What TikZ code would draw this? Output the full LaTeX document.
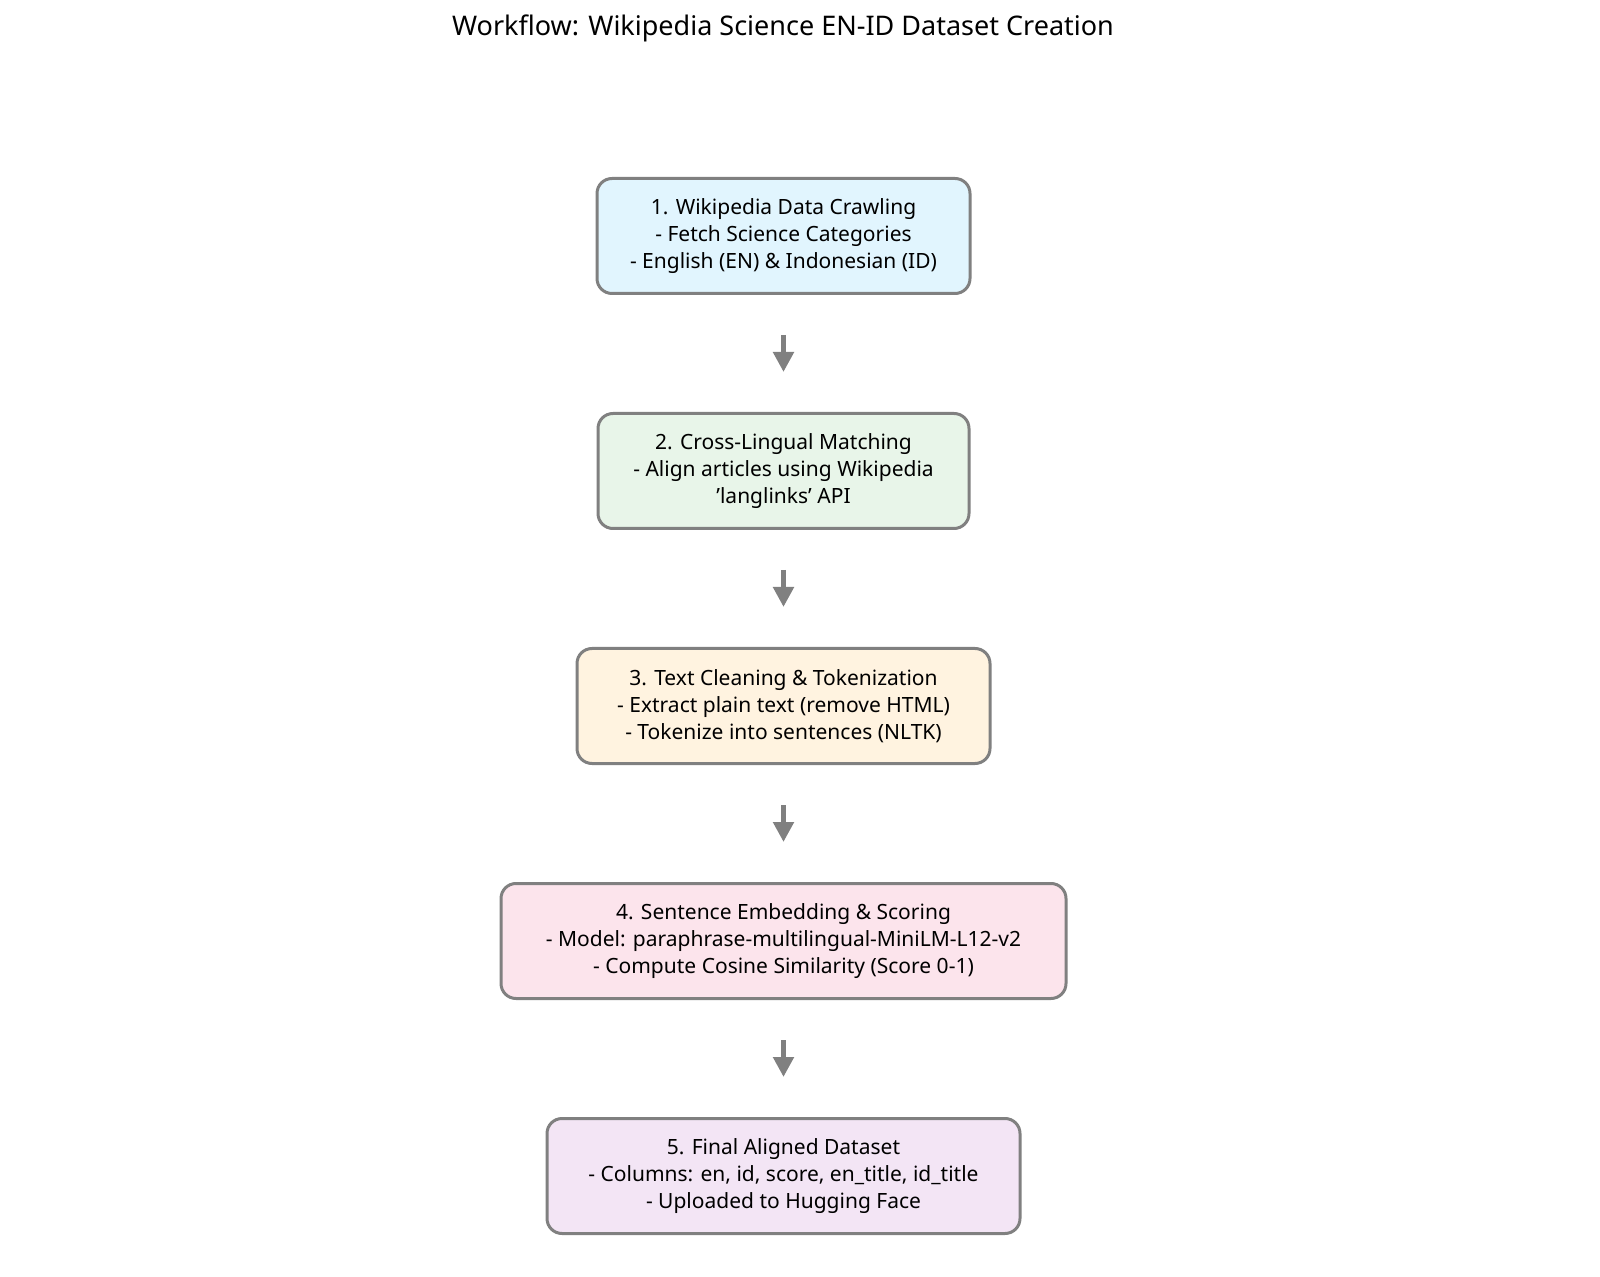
\documentclass[tikz,border=0pt]{standalone}
\usepackage{fontspec}
\setmainfont{Noto Sans}
\usetikzlibrary{arrows.meta}
\definecolor{bd}{HTML}{808080}
\definecolor{c1}{HTML}{E1F5FE}
\definecolor{c2}{HTML}{E8F5E9}
\definecolor{c3}{HTML}{FFF3E0}
\definecolor{c4}{HTML}{FCE4EC}
\definecolor{c5}{HTML}{F3E5F5}
\tikzset{
  box/.style={draw=bd, line width=1.5pt, rounded corners=7.5pt, align=center,
    font=\fontsize{10.5}{13.5}\selectfont, inner sep=0pt, minimum height=57.5pt},
  arr/.style={draw=bd, line width=2.5pt, shorten <=20pt, shorten >=20pt,
    -{Triangle[length=10pt,width=10pt]}}
}
\begin{document}
\begin{tikzpicture}[x=0.5pt,y=-0.5pt]
\useasboundingbox (0,0) rectangle (1600,1277);
\node[font=\fontsize{13.5}{16}\selectfont] (t) at (783,28) {Workflow: Wikipedia Science EN-ID Dataset Creation};
\node[box, fill=c1, minimum width=186.5pt] (b1) at (783.5,236) {1. Wikipedia Data Crawling\\- Fetch Science Categories\\- English (EN) \& Indonesian (ID)};
\node[box, fill=c2, minimum width=185.5pt] (b2) at (783.5,471) {2. Cross-Lingual Matching\\- Align articles using Wikipedia\\{\char39}langlinks{\char39} API};
\node[box, fill=c3, minimum width=206.5pt] (b3) at (783.5,706) {3. Text Cleaning \& Tokenization\\- Extract plain text (remove HTML)\\- Tokenize into sentences (NLTK)};
\node[box, fill=c4, minimum width=282.5pt] (b4) at (783.5,941) {4. Sentence Embedding \& Scoring\\- Model: paraphrase-multilingual-MiniLM-L12-v2\\- Compute Cosine Similarity (Score 0-1)};
\node[box, fill=c5, minimum width=236.5pt] (b5) at (783.5,1176) {5. Final Aligned Dataset\\- Columns: en, id, score, en\_title, id\_title\\- Uploaded to Hugging Face};
\draw[arr] (b1) -- (b2);
\draw[arr] (b2) -- (b3);
\draw[arr] (b3) -- (b4);
\draw[arr] (b4) -- (b5);
\end{tikzpicture}
\end{document}
